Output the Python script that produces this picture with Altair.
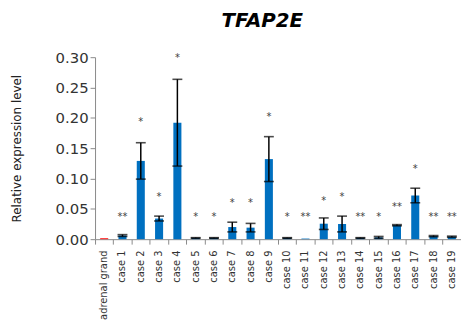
import altair as alt
import pandas as pd

categories = ["adrenal grand"] + [f"case {i}" for i in range(1, 20)]
values = [0.0015, 0.006, 0.129, 0.034, 0.192, 0.002, 0.002, 0.020, 0.019, 0.132,
          0.002, 0.001, 0.0255, 0.025, 0.002, 0.003, 0.023, 0.072, 0.005, 0.004]
errors = [0.0, 0.0015, 0.030, 0.004, 0.0715, 0.0005, 0.0005, 0.008, 0.007, 0.037,
          0.0005, 0.0, 0.0095, 0.013, 0.0005, 0.0015, 0.001, 0.012, 0.001, 0.001]
star_labels = ["", "**", "*", "*", "*", "*", "*", "*", "*", "*",
               "*", "**", "*", "*", "**", "*", "**", "*", "**", "**"]
star_heights = [0.0, 0.041, 0.198, 0.075, 0.303, 0.042, 0.042, 0.064, 0.064, 0.206,
                0.041, 0.041, 0.067, 0.075, 0.041, 0.041, 0.058, 0.120, 0.041, 0.041]
y_ticks = [0.0, 0.05, 0.10, 0.15, 0.20, 0.25, 0.30]
bar_colors = ["#FF0000"] + ["#0070C0"] * 19

df = pd.DataFrame({
    "cat": categories,
    "val": values,
    "lo": [v - e for v, e in zip(values, errors)],
    "hi": [v + e for v, e in zip(values, errors)],
    "err": errors,
    "star": star_labels,
    "sy": star_heights,
    "color": bar_colors,
})

FONT = "DejaVu Sans"

x_axis = alt.Axis(title=None, labelAngle=-90, labelFont=FONT, labelFontSize=10,
                  labelColor="#333333", domainColor="#8a8a8a", tickColor="#8a8a8a",
                  tickSize=5, bandPosition=0, labelPadding=6, labelAlign="right",
                  labelBaseline="middle", grid=False, labelOverlap=False)
y_axis = alt.Axis(title="Relative expression level", values=y_ticks,
                  format=".2f", labelFont=FONT, labelFontSize=15, labelColor="#333333",
                  labelOverlap=False, labelFlush=False,
                  titleFont=FONT, titleFontSize=12, titleFontWeight="normal", titleColor="#222222",
                  titlePadding=32, domainColor="#8a8a8a", tickColor="#8a8a8a", tickSize=5,
                  labelPadding=2, grid=False)
x_scale = alt.Scale(paddingInner=0, paddingOuter=0)
y_scale = alt.Scale(domain=[0, 0.30], nice=False)


def X():
    return alt.X("cat:N", sort=categories, scale=x_scale, axis=x_axis)


def Y(field):
    return alt.Y(field, scale=y_scale, axis=y_axis)


bars = alt.Chart(df).mark_bar(width=alt.RelativeBandSize(0.44)).encode(
    x=X(), y=Y("val:Q"), color=alt.Color("color:N", scale=None))

err_df = df[df["err"] > 0]
rules = alt.Chart(err_df).mark_rule(color="black", strokeWidth=1.5).encode(
    x=X(), y=Y("lo:Q"), y2="hi:Q")
cap_lo = alt.Chart(err_df).mark_tick(color="black", thickness=1.6, size=10).encode(
    x=X(), y=Y("lo:Q"))
cap_hi = alt.Chart(err_df).mark_tick(color="black", thickness=1.6, size=10).encode(
    x=X(), y=Y("hi:Q"))

stars = alt.Chart(df[df["star"] != ""]).mark_text(
    font=FONT, fontSize=10, fill="#404040", baseline="alphabetic", dy=6).encode(
    x=X(), y=Y("sy:Q"), text="star:N")

chart = alt.layer(bars, rules, cap_lo, cap_hi, stars).properties(
    width=370, height=184,
    autosize=alt.AutoSizeParams(type="none"),
    padding={"left": 88, "top": 48, "right": 0, "bottom": 80},
    title=alt.TitleParams("TFAP2E", font=FONT, fontSize=20, fontWeight="bold", fontStyle="italic",
                          color="black", anchor="middle", dx=-16, offset=20),
).configure_view(stroke=None)

chart.save("out.html", embed_options={"renderer": "svg", "actions": False})
